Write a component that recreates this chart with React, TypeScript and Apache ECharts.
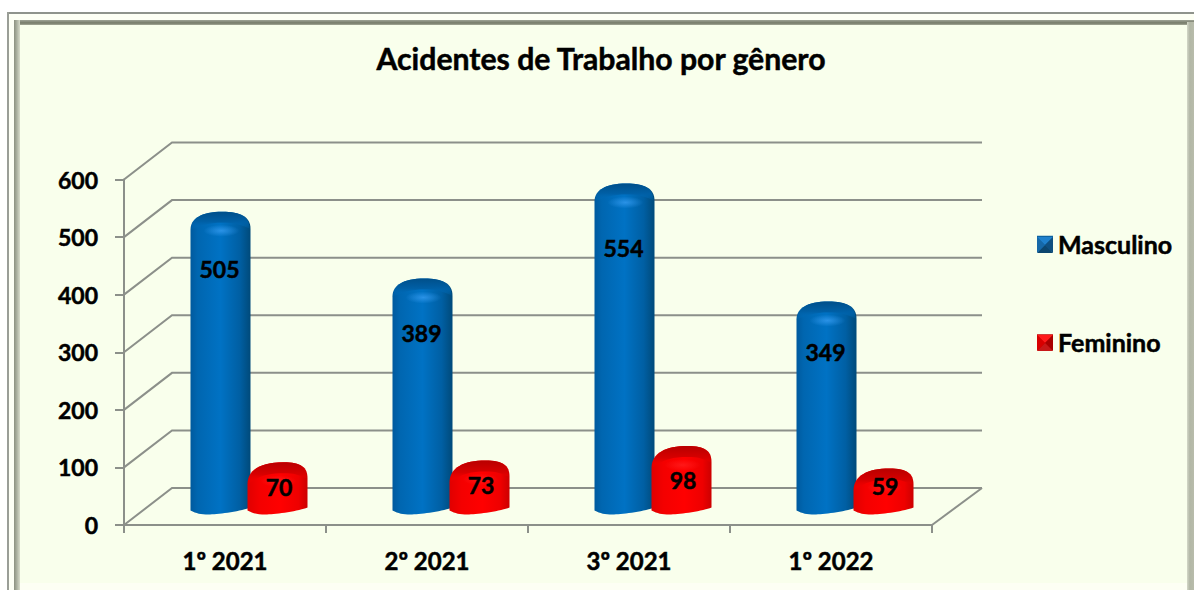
import React, { useEffect, useRef } from "react";
import * as echarts from "echarts";

const categories = ["1º 2021", "2º 2021", "3º 2021", "1º 2022"];
const masculino = [505, 389, 554, 349];
const feminino = [70, 73, 98, 59];
const yTicks = [0, 100, 200, 300, 400, 500, 600];
const titleText = "Acidentes de Trabalho por gênero";

const FONT = "Lato";
const HEAVY = { textBorderColor: "#000", textBorderWidth: 0.5 };
const DX = 24, DY = 18.5, WX = 48, WY = 37;
const masculinoLabelDy = [53, 50, 61, 46];
const femininoLabelDy = [21, 20.5, 30, 13.5];

const lin = (x2: number, y2: number, stops: [number, string][]) =>
  new echarts.graphic.LinearGradient(0, 0, x2, y2, stops.map(([offset, color]) => ({ offset, color })));

const palette = {
  blue: {
    body: [[0, "#005a9e"], [0.12, "#0066b0"], [0.5, "#0072c4"], [0.82, "#005fa3"], [1, "#004a7a"]] as [number, string][],
    cap: [[0, "#004f8a"], [0.55, "#005fa5"], [1, "rgba(0,112,192,0)"]] as [number, string][],
    glow: "rgba(60,160,245,0.7)",
    glowEnd: "rgba(60,160,245,0)",
  },
  red: {
    body: [[0, "#e00000"], [0.2, "#f40000"], [0.55, "#ff0000"], [0.85, "#ee0000"], [1, "#cc0000"]] as [number, string][],
    cap: [[0, "#b80000"], [0.55, "#d80000"], [1, "rgba(255,0,0,0)"]] as [number, string][],
    glow: "rgba(255,40,40,0.6)",
    glowEnd: "rgba(255,40,40,0)",
  },
};

function cylinder(kind: "blue" | "red", offset: number, labelDy: number[], labelDx: number) {
  return (params: any, api: any) => {
    const i = api.value(0);
    const v = api.value(1);
    const top = api.coord([i, v]);
    const base = api.coord([i, 0]);
    const cx = top[0] + DX + offset;
    const t = top[1] - DY;
    const b = base[1] - DY;
    const L = cx - 30, R = cx + 30;
    const p = palette[kind];
    const ls = kind === "red" ? 18 : 14;
    const rs = kind === "red" ? 12 : 13;
    const pk = kind === "red" ? cx + 6 : cx + 2;
    const body = `M${L} ${t + ls}C${L} ${t + 3} ${pk - 22} ${t - 4} ${pk} ${t - 4}C${pk + 18} ${t - 4} ${R} ${t + 1} ${R} ${t + rs}L${R} ${b + 1}C${R - 10} ${b + 5} ${cx - 4} ${b + 8} ${cx - 12} ${b + 8}C${cx - 20} ${b + 8} ${L + 6} ${b + 7} ${L} ${b + 4}Z`;
    const cap = `M${L + 1} ${t + ls}C${L + 1} ${t + 3} ${pk - 22} ${t - 4} ${pk} ${t - 4}C${pk + 18} ${t - 4} ${R - 1} ${t + 1} ${R - 1} ${t + rs}C${R - 12} ${t + 8} ${pk + 12} ${t + 7} ${pk} ${t + 7}C${pk - 14} ${t + 7} ${L + 12} ${t + 9} ${L + 1} ${t + ls}Z`;
    return {
      type: "group",
      children: [
        { type: "path", shape: { pathData: body }, style: { fill: lin(1, 0, p.body) } },
        { type: "path", shape: { pathData: cap }, style: { fill: lin(0, 1, p.cap) } },
        {
          type: "ellipse",
          shape: { cx: cx + 1, cy: t + 15, rx: 18, ry: 6 },
          style: {
            fill: new echarts.graphic.RadialGradient(0.5, 0.5, 0.5, [
              { offset: 0, color: p.glow },
              { offset: 1, color: p.glowEnd },
            ]),
          },
        },
        {
          type: "text",
          style: {
            x: cx + labelDx,
            y: t + labelDy[i],
            text: String(v),
            align: "center",
            verticalAlign: "middle",
            fontFamily: FONT,
            fontWeight: "bold",
            fontSize: 23,
            fill: "#000",
            stroke: "#000",
            lineWidth: 0.5,
          },
        },
      ],
    };
  };
}

function wallLine(params: any, api: any) {
  const cs = params.coordSys;
  const v = api.value(1);
  const y = api.coord([0, v])[1];
  const lineStyle = { stroke: "#8c908a", lineWidth: 2, fill: "none" };
  const children: any[] = [
    {
      type: "polyline",
      shape: { points: [[cs.x, y], [cs.x + WX, y - WY], [cs.x + cs.width + 50, y - WY]] },
      style: lineStyle,
    },
  ];
  if (v === 0) {
    children.push({
      type: "line",
      shape: { x1: cs.x + cs.width, y1: y, x2: cs.x + cs.width + 50, y2: y - WY },
      style: lineStyle,
    });
  }
  return { type: "group", children };
}

function bevelIcon(x: number, y: number, s: number, cols: string[]) {
  const c = [x + s / 2, y + s / 2];
  const tris = [
    [[x, y], [x + s, y], c],
    [[x + s, y], [x + s, y + s], c],
    [[x + s, y + s], [x, y + s], c],
    [[x, y + s], [x, y], c],
  ];
  return tris.map((points, k) => ({
    type: "polygon",
    z: 20,
    silent: true,
    shape: { points },
    style: { fill: cols[k] },
  }));
}

const frame = [
  { type: "rect", z: -10, shape: { x: 7, y: 12, width: 1187, height: 578 }, style: { fill: "#fdfff4" } },
  { type: "rect", z: -9, shape: { x: 7, y: 12, width: 1187, height: 2 }, style: { fill: "#8f938c" } },
  { type: "rect", z: -9, shape: { x: 7, y: 12, width: 2, height: 578 }, style: { fill: "#9a9e97" } },
  {
    type: "rect", z: -8,
    shape: { x: 14, y: 20, width: 1180, height: 5 },
    style: { fill: lin(0, 1, [[0, "#9fa496"], [0.6, "#757a68"], [1, "#a5aa98"]]) },
  },
  {
    type: "rect", z: -8,
    shape: { x: 14, y: 20, width: 6, height: 570 },
    style: { fill: lin(1, 0, [[0, "#8c9180"], [0.5, "#aeb3a2"], [1, "#d8dcca"]]) },
  },
  {
    type: "rect", z: -8,
    shape: { x: 1187, y: 22, width: 7, height: 568 },
    style: { fill: lin(1, 0, [[0, "#d4d8c8"], [0.4, "#b2b7a6"], [1, "#b8bcab"]]) },
  },
  { type: "rect", z: -7, shape: { x: 20, y: 25, width: 1167, height: 558 }, style: { fill: "#f9ffec" } },
];

export default function App() {
  const ref = useRef<HTMLDivElement>(null);
  useEffect(() => {
    const chart = echarts.init(ref.current!, undefined, { renderer: "svg" });
    chart.setOption({
      animation: false,
      backgroundColor: "#ffffff",
      title: {
        text: titleText,
        left: 596,
        top: 38,
        textAlign: "center",
        textStyle: { fontFamily: FONT, fontWeight: "bold", fontSize: 30.2, color: "#000", ...HEAVY },
      },
      legend: {
        orient: "vertical",
        left: 1037,
        top: 231,
        padding: 0,
        itemWidth: 16,
        itemHeight: 16,
        itemGap: 73,
        selectedMode: false,
        textStyle: { fontFamily: FONT, fontWeight: "bold", fontSize: 25, color: "#000", ...HEAVY },
        data: [
          { name: "Masculino", icon: "rect", itemStyle: { color: "#0f62a0" } },
          { name: "Feminino", icon: "rect", itemStyle: { color: "#c00000" } },
        ],
      },
      grid: { left: 124, right: 262, top: 179.5, height: 345.5, containLabel: false },
      xAxis: {
        type: "category",
        data: categories,
        axisLine: { lineStyle: { color: "#8c908a", width: 2 } },
        axisTick: { show: true, length: 8, lineStyle: { color: "#8c908a", width: 2 } },
        axisLabel: { fontFamily: FONT, fontWeight: "bold", fontSize: 24, color: "#000", margin: 23, ...HEAVY },
        splitLine: { show: false },
      },
      yAxis: {
        type: "value",
        min: 0,
        max: 600,
        interval: 100,
        axisLine: { show: true, lineStyle: { color: "#8c908a", width: 2 } },
        axisTick: { show: true, length: 9, lineStyle: { color: "#8c908a", width: 2 } },
        axisLabel: { fontFamily: FONT, fontWeight: "bold", fontSize: 23, color: "#000", margin: 26, ...HEAVY },
        splitLine: { show: false },
      },
      graphic: [
        ...frame,
        ...bevelIcon(1037, 237, 16, ["#1f80cc", "#0f4f80", "#0c466f", "#1668a8"]),
        ...bevelIcon(1037, 335, 16, ["#ff1a1a", "#a80000", "#c81818", "#d80000"]),
      ],
      series: [
        {
          type: "custom",
          name: "grade",
          silent: true,
          z: 1,
          encode: { x: 0, y: 1 },
          data: yTicks.map((v) => [0, v]),
          renderItem: wallLine,
        },
        {
          type: "custom",
          name: "Masculino",
          z: 3,
          silent: true,
          encode: { x: 0, y: 1 },
          itemStyle: { color: "#0f62a0" },
          data: masculino.map((v, i) => [i, v]),
          renderItem: cylinder("blue", -28.5, masculinoLabelDy, -1),
        },
        {
          type: "custom",
          name: "Feminino",
          z: 4,
          silent: true,
          encode: { x: 0, y: 1 },
          itemStyle: { color: "#c00000" },
          data: feminino.map((v, i) => [i, v]),
          renderItem: cylinder("red", 28.5, femininoLabelDy, 1.5),
        },
      ],
    });
    return () => chart.dispose();
  }, []);
  return <div ref={ref} style={{ position: "fixed", left: 0, top: 0, width: 1194, height: 590 }} />;
}
